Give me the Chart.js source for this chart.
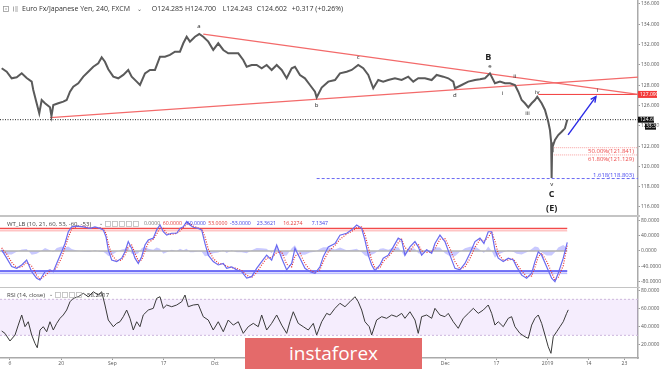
<!DOCTYPE html>
<html>
<head>
<meta charset="utf-8">
<script src="https://cdn.jsdelivr.net/npm/chart.js@4.4.1/dist/chart.umd.min.js"></script>
<style>
  body { margin: 0; background: #fff; width: 665px; height: 369px; overflow: hidden; position: relative; font-family: "Open Sans", sans-serif; }
  canvas { position: absolute; left: 0; }
  .sep { position: absolute; left: 0; width: 640px; background: #c4c4c4; }
  #wm { position: absolute; left: 245px; top: 338px; width: 177px; height: 31px; background: #e46a6a; color: #fff;
        font: 19px "Open Sans", sans-serif; text-align: center; line-height: 31px; }
</style>
</head>
<body>
<canvas id="priceChart" width="665" height="215" style="top:0"></canvas>
<div class="sep" style="top:215px;height:2px"></div>
<canvas id="wtChart" width="665" height="70" style="top:217px"></canvas>
<div class="sep" style="top:287px;height:1px"></div>
<canvas id="rsiChart" width="665" height="81" style="top:288px"></canvas>
<div id="wm">instaforex</div>
<script>
// x axis is in trading days, day 0 = Aug 6 2018
const X_MIN = -1.95, X_MAX = 122.66;
const dayTicks = [0, 10, 20, 30, 40, 50, 63, 75, 85, 95, 105, 113, 120];
const dayLabels = ['6', '20', 'Sep', '17', 'Oct', '15', 'Nov', '19', 'Dec', '17', '2019', '14', '23'];
const priceTicks = [116, 118, 120, 122, 124, 126, 128, 130, 132, 134, 136];
const wtTicks = [-80, -40, 0, 40, 80];
const rsiTicks = [20, 40, 60, 80];

// EUR/JPY 240 closes
const priceDays = [-1.62,-0.64,0.33,1.31,2.29,3.26,4.24,4.55,5.21,5.72,
  6.19,6.84,7.81,8.1,8.46,9.43,10.41,11.07,11.72,12.36,
  13.34,14.32,15.29,16.27,17.25,17.91,18.55,19.2,20.18,21.15,
  22.13,23.1,23.77,24.75,25.39,26.37,27.34,28.32,29.3,30.27,
  31.25,32.22,33.2,33.85,34.51,35.15,36.13,36.97,37.75,38.73,
  39.7,40.68,41.66,42.63,43.61,44.59,45.56,46.23,47.2,48.18,
  49.16,50.13,51.11,52.09,53.07,54.04,55.02,55.66,56.64,57.61,
  58.59,59.57,59.9,60.88,62.17,63.48,64.45,65.76,66.74,68.02,
  69.0,69.98,70.95,71.93,72.9,73.88,75.19,76.5,77.79,78.77,
  79.74,81.05,82.36,83.33,84.62,85.6,86.58,86.91,88.22,89.51,
  90.82,91.79,92.77,93.74,94.72,95.7,96.68,97.65,98.63,99.28,
  99.94,100.58,101.23,101.89,102.53,102.98,103.84,104.49,105.13,105.46,
  105.7,105.79,105.88,105.99,106.44,107.08,107.75,108.39,108.84];
const priceClose = [129.67,129.33,128.68,128.78,129.17,128.71,128.35,127.53,126.22,125.23,
  126.54,126.22,125.82,124.95,126.05,126.22,126.38,126.54,127.36,127.85,
  128.19,128.84,129.33,129.82,130.16,130.75,130.31,129.57,128.84,128.68,
  129.01,129.50,128.84,128.35,128.02,129.17,129.50,129.50,130.81,130.81,
  130.98,131.30,131.30,132.13,132.78,132.29,132.78,133.04,132.78,132.29,
  131.47,132.13,131.47,131.14,131.14,131.14,130.48,129.82,129.99,129.99,
  129.67,129.99,129.50,129.99,129.50,128.68,129.67,129.82,129.00,128.68,
  128.02,127.36,126.79,127.77,128.35,128.51,129.17,129.33,129.50,129.99,
  129.67,129.01,127.70,128.51,128.35,128.51,128.68,128.51,128.84,128.35,
  128.68,128.68,128.51,129.01,128.84,128.68,128.35,127.70,128.02,128.35,
  128.51,128.58,128.68,129.17,128.19,128.35,128.19,128.19,128.02,127.36,
  126.54,126.22,125.82,126.22,126.54,126.87,126.22,125.56,124.40,123.59,
  122.4,118.85,121.5,121.94,122.60,123.09,123.42,123.75,124.60];

// drawing tools
const upperTrend = [[37.75, 133.04], [122.66, 127.10]];
const lowerTrend = [[7.81, 124.80], [122.66, 128.80]];
const targetLevel = 127.090, targetFrom = 103.2;
const lastClose = 124.602;
const fibLevels = [['50.00%', 121.841], ['61.80%', 121.129]], fibFrom = 105.9;
const extLevel = ['1.618', 118.803], extFrom = 59.9;
const arrowFrom = [109.0, 123.1], arrowTo = [114.45, 126.87];
const waveLabels = [
  ['a', 36.9, 133.76], ['b', 59.9, 126.05], ['c', 68.0, 130.75], ['d', 86.9, 127.03],
  ['e', 93.75, 129.82], ['B', 93.4, 130.78, 1], ['i', 96.2, 127.2], ['ii', 98.6, 128.91],
  ['iii', 101.1, 125.23], ['iv', 103.0, 127.3], ['v', 105.8, 118.27], ['C', 105.8, 117.28, 1],
  ['(E)', 105.8, 115.87, 1], ['i', 114.8, 127.46]
];

// WT_LB
const wtDays = [-1.62,-0.64,0.33,1.31,2.29,3.26,4.24,5.21,5.86,6.84,
  7.81,8.46,9.12,10.1,10.74,11.39,12.05,13.03,14.32,15.63,
  16.6,17.58,18.22,18.75,19.2,19.86,20.84,21.82,22.46,23.1,
  23.77,24.41,25.06,25.72,26.37,27.01,27.99,28.65,29.3,29.94,
  30.6,31.58,32.56,33.2,33.85,34.51,35.15,35.8,36.77,37.44,
  38.08,38.73,39.7,40.68,41.66,42.32,43.3,44.27,45.25,46.23,
  47.2,48.18,49.16,50.13,51.11,52.09,53.07,54.04,55.02,55.66,
  56.64,57.61,58.59,59.57,60.54,61.19,62.17,63.48,64.45,65.76,
  66.74,67.71,68.69,69.33,69.98,70.64,71.28,72.26,72.9,73.88,
  74.86,75.83,76.5,77.14,78.12,79.1,79.74,80.4,81.38,82.36,
  83.0,83.98,84.95,85.93,86.91,87.88,88.86,89.84,90.82,91.79,
  92.57,93.41,94.08,94.72,95.37,96.34,97.32,98.3,98.96,99.94,
  100.91,101.89,102.53,103.18,103.84,104.82,105.79,106.44,107.08,108.06,
  108.84];
const wt1 = [3,-19,-41,-46,-37,-24,-55,-72,-77,-55,
  -50,-55,-33,-2,20,51,64,66,64,60,
  64,60,56,38,3,-24,-28,-19,-2,25,
  7,-19,-33,-15,16,29,34,56,69,51,
  42,47,47,60,64,78,69,63,60,56,
  20,-11,-28,-37,-33,-46,-42,-50,-55,-72,
  -68,-46,-28,-11,-24,16,-19,-50,-33,7,
  -19,-46,-55,-59,-42,-15,11,20,42,47,
  56,69,60,29,-11,-37,-52,-37,-19,-11,
  11,34,29,-11,11,25,11,-11,3,-6,
  20,42,25,-11,-46,-50,-33,-6,25,34,
  20,51,51,3,-19,-28,-19,-24,-42,-64,
  -72,-59,-28,-2,-11,-42,-72,-81,-59,-19,
  23];
const wt2 = [8,-8,-30,-44,-42,-30,-40,-64,-75,-66,
  -52,-53,-44,-17,9,36,58,65,65,62,
  62,62,58,47,20,-10,-26,-24,-10,12,
  16,-6,-26,-24,0,22,31,45,62,60,
  46,44,47,53,62,71,73,66,61,58,
  38,5,-20,-32,-35,-40,-44,-46,-52,-64,
  -70,-57,-37,-19,-17,-4,-2,-35,-42,-13,
  -6,-33,-50,-57,-50,-28,-2,15,31,45,
  52,62,64,44,9,-24,-45,-45,-28,-15,
  0,22,31,9,0,18,18,0,-4,-2,
  7,31,33,7,-28,-48,-42,-20,10,30,
  27,36,51,27,-8,-24,-24,-21,-33,-53,
  -68,-66,-43,-15,-6,-27,-57,-77,-70,-39,
  16];
const wtDiff = [-4,-9,-9,-2,4,5,-10,-7,-2,8,
  2,-2,8,12,9,12,5,1,-1,-2,
  2,-2,-2,-7,-13,-11,-2,4,6,10,
  -7,-10,-6,7,12,6,3,9,6,-7,
  -3,3,0,6,2,6,-3,-3,-1,-2,
  -14,-12,-6,-4,2,-5,2,-3,-3,-6,
  2,8,7,6,-6,15,-13,-12,7,15,
  -10,-10,-4,-2,6,10,10,4,9,2,
  3,6,-3,-12,-15,-10,-6,6,7,3,
  9,10,-2,-15,8,6,-6,-8,5,-3,
  10,9,-6,-14,-14,-2,7,11,12,3,
  -5,12,0,-18,-9,-3,2,-2,-7,-9,
  -3,5,12,10,-4,-12,-12,-3,9,16,
  7];
const wtLevels = [60, 53, -53, -60];

// RSI 14
const rsiDays = [-1.62,-0.98,0,0.98,1.62,2.29,2.93,3.57,4.24,4.88,
  5.33,5.86,6.5,7.17,7.81,8.46,9.12,9.77,10.41,11.07,
  11.72,12.36,13.34,14.32,15.29,16.27,17.25,17.91,18.55,19.2,
  20.18,20.84,21.48,22.13,22.79,23.44,24.08,24.75,25.39,26.03,
  27.01,27.99,28.65,29.3,29.94,30.6,31.58,32.56,33.53,34.18,
  34.82,35.8,36.77,37.75,38.73,39.7,40.68,41.66,42.63,43.61,
  44.59,45.56,46.54,47.52,48.49,49.16,50.13,51.11,52.09,53.07,
  54.04,54.68,55.33,56.3,57.28,58.26,59.24,59.9,60.88,61.85,
  62.5,63.48,64.45,65.43,66.4,67.38,68.02,68.69,69.33,70.17,
  70.64,71.61,72.59,73.57,74.54,75.52,76.5,77.14,78.12,79.1,
  79.74,80.4,81.38,82.36,83.0,83.98,84.95,85.6,86.58,87.55,
  88.53,89.51,90.5,91.46,92.44,93.41,94.08,94.72,95.37,96.34,
  97.32,97.98,98.63,99.6,100.58,101.23,101.89,102.53,103.18,103.84,
  104.49,105.13,105.66,106.11,106.77,107.42,108.06,108.72,109.04];
const rsiValues = [34.8,32.2,23.7,30.3,41.4,52.6,39.6,45.1,30.3,21.1,
  16.2,35.9,39.6,34,45.1,35.9,43.3,48.9,52.6,58.1,
  67.3,71.1,72.9,76.7,72.9,78.4,74.8,78.4,63.7,47,
  39.6,43.3,45.1,50.7,58.1,48.9,35.9,45.1,39.6,52.6,
  58.1,60,71.1,72.9,60,63.7,61.8,63.7,67.3,74.8,
  61.8,63.7,64.4,50.7,47,35.9,45.1,34,47,41.4,
  45.1,32.2,39.6,43.3,39.6,52.6,35.9,43.3,52.6,41.4,
  32.2,45.1,56.2,43.3,39.6,35.9,43.3,30.3,45.1,54.4,
  52.6,60,65.6,61.8,67.3,72.9,67.3,58.1,45.1,39.6,
  30.3,47,50.7,48.9,52.6,50.7,54.4,48.9,56.2,47,
  32.2,50.7,52.6,48.9,60,52.6,50.7,54.4,45.1,37.8,
  48.9,54.4,60,54.4,58.1,63.7,54.4,41.4,45.1,39.6,
  48.9,50.7,39.6,32.2,28.4,26.7,41.4,48.9,52.6,43.3,
  30.3,17.3,10,28.4,34,39.6,45.1,54.4,58.3];
const rsiBand = [70, 30];

const xy = (xs, ys) => xs.map((x, i) => ({ x, y: ys[i] }));
const seg = (a, b, v) => [{ x: a, y: v }, { x: b, y: v }];
const lastWtDay = wtDays[wtDays.length - 1];

function xAxis(show) {
  const ax = {
    type: 'linear', min: X_MIN, max: X_MAX, display: show,
    afterFit: s => { s.paddingLeft = 0; s.paddingRight = 0; }
  };
  if (show) {
    Object.assign(ax, {
      afterBuildTicks: s => { s.ticks = dayTicks.map(v => ({ value: v })); },
      afterFit: s => { s.height = 11; s.paddingLeft = 0; s.paddingRight = 0; },
      ticks: { autoSkip: false, maxRotation: 0, color: '#555', font: { size: 5, family: 'Open Sans' }, padding: 1,
               callback: (v, i) => dayLabels[i] },
      grid: { drawOnChartArea: false, tickLength: 2, color: '#999' },
      border: { display: true, color: '#aaa', width: 1.5 }
    });
  }
  return ax;
}

function yAxis(min, max, ticks, dec) {
  return {
    position: 'right', min, max,
    afterBuildTicks: s => { s.ticks = ticks.map(v => ({ value: v })); },
    afterFit: s => { s.width = 27; s.paddingTop = 0; s.paddingBottom = 0; },
    ticks: { autoSkip: false, color: '#555', font: { size: 5, family: 'Open Sans' }, padding: 1,
             callback: v => v.toFixed(dec) },
    grid: { drawOnChartArea: false, tickLength: 2, color: '#999' },
    border: { display: true, color: '#aaa', width: 1.5 }
  };
}

const baseOpts = (scales) => ({
  responsive: false, animation: false, devicePixelRatio: 1, events: [],
  layout: { padding: 0 },
  plugins: { legend: { display: false }, tooltip: { enabled: false } },
  elements: { point: { radius: 0 }, line: { tension: 0 } },
  scales
});

function drawIcons(c, x0, n, y) {
  c.strokeStyle = '#bbb'; c.lineWidth = 0.8;
  for (let i = 0; i < n; i++) c.strokeRect(x0 + i * 7 + 0.5, y - 2.5, 5, 5);
}

function drawHeader(c, items, y) {
  c.textBaseline = 'middle'; c.textAlign = 'left';
  items.forEach(([txt, x, col, size]) => {
    c.fillStyle = col; c.font = size + 'px "Open Sans"';
    c.fillText(txt, x, y);
  });
}

const priceDecor = {
  id: 'priceDecor',
  afterDraw(chart) {
    const c = chart.ctx, xs = chart.scales.x, ys = chart.scales.y;
    const px = d => xs.getPixelForValue(d), py = v => ys.getPixelForValue(v);
    c.save();
    // wave labels
    c.textAlign = 'center'; c.textBaseline = 'middle';
    waveLabels.forEach(([t, d, p, big]) => {
      c.fillStyle = '#222';
      c.font = big ? 'bold 9px "Open Sans"' : '6px "Open Sans"';
      c.fillText(t, px(d), py(p));
    });
    // arrow head
    const x0 = px(arrowFrom[0]), y0 = py(arrowFrom[1]), x1 = px(arrowTo[0]), y1 = py(arrowTo[1]);
    const ang = Math.atan2(y1 - y0, x1 - x0);
    c.strokeStyle = '#2a2ae6'; c.lineWidth = 1.4;
    c.beginPath();
    c.moveTo(x1 - 6 * Math.cos(ang - 0.45), y1 - 6 * Math.sin(ang - 0.45));
    c.lineTo(x1, y1);
    c.lineTo(x1 - 6 * Math.cos(ang + 0.45), y1 - 6 * Math.sin(ang + 0.45));
    c.stroke();
    // fib texts
    c.textAlign = 'right'; c.font = '6px "Open Sans"';
    const xr = xs.right - 4;
    fibLevels.forEach(([pct, v]) => {
      c.fillStyle = '#ee4b4b'; c.textBaseline = 'top';
      c.fillText(pct + '(' + v.toFixed(3) + ')', xr, py(v) + 1);
    });
    c.fillStyle = '#4b4bee'; c.textBaseline = 'bottom';
    c.fillText(extLevel[0] + '(' + extLevel[1].toFixed(3) + ')', xr, py(extLevel[1]) - 0.5);
    // price boxes on axis
    const bx = xs.right;
    c.textAlign = 'left'; c.textBaseline = 'middle'; c.font = '5px "Open Sans"';
    let yy = py(targetLevel);
    c.fillStyle = '#f33a3a'; c.fillRect(bx, yy - 3.5, 19, 7);
    c.fillStyle = '#fff'; c.fillText(targetLevel.toFixed(3), bx + 2, yy);
    yy = py(lastClose);
    c.fillStyle = '#111'; c.fillRect(bx, yy - 3, 16, 6);
    c.fillStyle = '#fff'; c.fillText(lastClose.toFixed(3), bx + 2, yy);
    c.fillStyle = '#111'; c.fillRect(bx + 7, yy + 4, 11, 6);
    c.fillStyle = '#fff'; c.fillText('33:35', bx + 8, yy + 7);
    // header
    c.strokeStyle = '#999'; c.lineWidth = 0.8;
    c.strokeRect(3.5, 6.5, 5, 5);
    c.beginPath(); c.moveTo(5, 9); c.lineTo(7, 9); c.stroke();
    c.fillStyle = '#aaa'; c.fillRect(13, 6.5, 1, 5); c.fillRect(15, 6.5, 3, 1); c.fillRect(15, 8.5, 3, 1); c.fillRect(15, 10.5, 3, 1);
    drawHeader(c, [
      ['Euro Fx/Japanese Yen, 240, FXCM', 22, '#333', 7],
      ['\u2304', 137, '#555', 6],
      ['O124.285', 151.7, '#333', 7],
      ['H124.700', 185, '#333', 7],
      ['L124.243', 222.7, '#333', 7],
      ['C124.602', 256.7, '#333', 7],
      ['+0.317 (+0.26%)', 291.7, '#333', 7]
    ], 9);
    c.restore();
  }
};

new Chart(document.getElementById('priceChart'), {
  type: 'line',
  data: {
    datasets: [
      { data: xy(priceDays, priceClose), borderColor: '#5a5a5a', borderWidth: 2 },
      { data: [{ x: arrowFrom[0], y: arrowFrom[1] }, { x: arrowTo[0], y: arrowTo[1] }], borderColor: '#2a2ae6', borderWidth: 1.4 },
      { data: xy(upperTrend.map(p => p[0]), upperTrend.map(p => p[1])), borderColor: '#f36a6a', borderWidth: 1.2 },
      { data: xy(lowerTrend.map(p => p[0]), lowerTrend.map(p => p[1])), borderColor: '#f36a6a', borderWidth: 1.2 },
      { data: seg(targetFrom, X_MAX, targetLevel), borderColor: '#f23a3a', borderWidth: 1 },
      { data: seg(X_MIN, X_MAX, lastClose), borderColor: '#222', borderWidth: 1, borderDash: [1, 1.5] },
      { data: seg(fibFrom, X_MAX, fibLevels[0][1]), borderColor: '#f7a0a0', borderWidth: 1, borderDash: [1, 1] },
      { data: seg(fibFrom, X_MAX, fibLevels[1][1]), borderColor: '#f7a0a0', borderWidth: 1, borderDash: [1, 1] },
      { data: seg(extFrom, X_MAX, extLevel[1]), borderColor: '#6a6af2', borderWidth: 1, borderDash: [3, 2] }
    ]
  },
  options: baseOpts({ x: xAxis(false), y: yAxis(115.21, 136.394, priceTicks, 3) }),
  plugins: [priceDecor]
});

const wtDecor = {
  id: 'wtDecor',
  afterDraw(chart) {
    const c = chart.ctx;
    c.save();
    drawHeader(c, [
      ['WT_LB (10, 21, 60, 53, -60, -53)', 7, '#444', 6],
      ['\u2304', 99, '#555', 5],
      ['0.0000', 144, '#777', 5.2],
      ['60.0000', 162.7, '#e43a3a', 5.2],
      ['-60.0000', 185, '#3a3ae4', 5.2],
      ['53.0000', 208.3, '#e43a3a', 5.2],
      ['-53.0000', 230, '#3a3ae4', 5.2],
      ['23.3621', 256.7, '#3a3ae4', 5.2],
      ['16.2274', 283.3, '#e43a3a', 5.2],
      ['7.1347', 311.7, '#3a3ae4', 5.2]
    ], 7);
    drawIcons(c, 105, 5, 7);
    c.restore();
  }
};

new Chart(document.getElementById('wtChart'), {
  type: 'line',
  data: {
    datasets: [
      { data: xy(wtDays, wt1), borderColor: '#6a6af0', borderWidth: 1.2 },
      { data: xy(wtDays, wt2), borderColor: '#e83030', borderWidth: 1.2, borderDash: [1, 1.5] },
      { data: seg(X_MIN, lastWtDay, wtLevels[0]), borderColor: '#f24a4a', borderWidth: 1.3, fill: '+1', backgroundColor: 'rgba(255,90,90,0.22)' },
      { data: seg(X_MIN, lastWtDay, wtLevels[1]), borderColor: 'rgba(255,90,90,0.35)', borderWidth: 1 },
      { data: seg(X_MIN, lastWtDay, wtLevels[2]), borderColor: '#4a4af2', borderWidth: 1.3, fill: '+1', backgroundColor: 'rgba(90,90,255,0.22)' },
      { data: seg(X_MIN, lastWtDay, wtLevels[3]), borderColor: 'rgba(90,90,255,0.35)', borderWidth: 1 },
      { data: seg(X_MIN, lastWtDay, 0), borderColor: '#b0b0b0', borderWidth: 1.5 },
      { data: xy(wtDays, wtDiff), borderWidth: 0, borderColor: 'rgba(0,0,0,0)', fill: 'origin', backgroundColor: 'rgba(120,120,255,0.4)' }
    ]
  },
  options: baseOpts({ x: xAxis(false), y: yAxis(-95.4, 90.1, wtTicks, 4) }),
  plugins: [wtDecor]
});

const rsiDecor = {
  id: 'rsiDecor',
  afterDraw(chart) {
    const c = chart.ctx;
    c.save();
    drawHeader(c, [
      ['RSI (14, close)', 7, '#444', 6],
      ['\u2304', 49, '#555', 5],
      ['58.2917', 87, '#333', 6]
    ], 7);
    drawIcons(c, 55, 4, 7);
    c.restore();
  }
};

new Chart(document.getElementById('rsiChart'), {
  type: 'line',
  data: {
    datasets: [
      { data: xy(rsiDays, rsiValues), borderColor: '#3a3a3a', borderWidth: 1 },
      { data: seg(X_MIN, X_MAX, rsiBand[0]), borderColor: '#cdb8dc', borderWidth: 1, borderDash: [2, 2], fill: '+1', backgroundColor: 'rgba(170,110,240,0.12)' },
      { data: seg(X_MIN, X_MAX, rsiBand[1]), borderColor: '#cdb8dc', borderWidth: 1, borderDash: [2, 2] }
    ]
  },
  options: baseOpts({ x: xAxis(true), y: yAxis(4.8, 82.6, rsiTicks, 4) }),
  plugins: [rsiDecor]
});
</script>
</body>
</html>
